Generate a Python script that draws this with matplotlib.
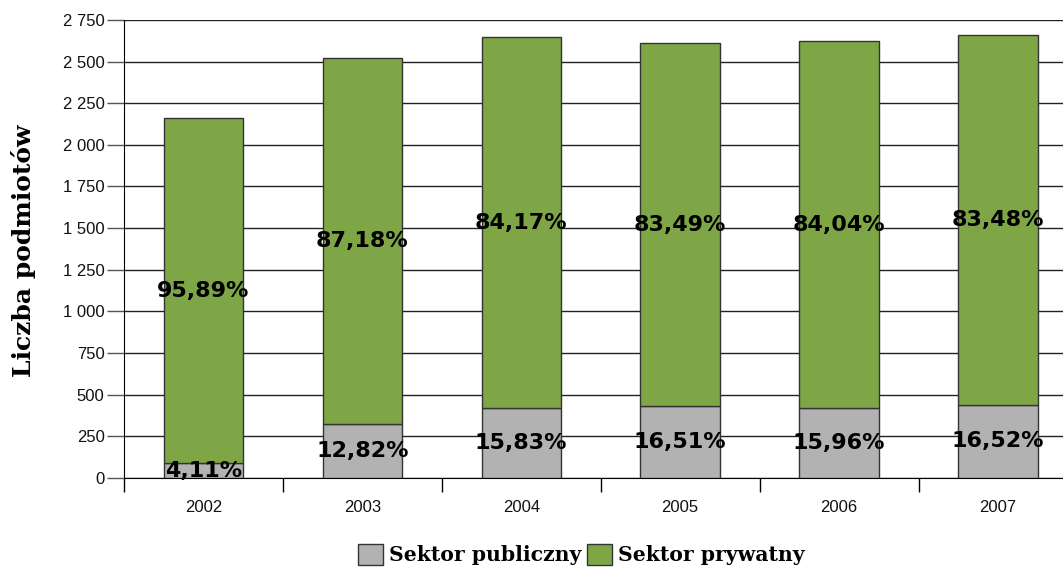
import matplotlib
matplotlib.use("Agg")
import matplotlib.pyplot as plt
from matplotlib.ticker import FuncFormatter, MultipleLocator
from matplotlib.patches import Patch

years = ["2002", "2003", "2004", "2005", "2006", "2007"]
publiczny = [89, 323, 419, 431, 419, 439]
prywatny = [2072, 2199, 2229, 2181, 2205, 2221]
pct_pub = ["4,11%", "12,82%", "15,83%", "16,51%", "15,96%", "16,52%"]
pct_pryw = ["95,89%", "87,18%", "84,17%", "83,49%", "84,04%", "83,48%"]

GREEN = "#7ea646"
GRAY = "#b2b2b2"

fig = plt.figure(figsize=(10.63, 5.69), dpi=100)
ax = fig.add_axes([0.1166, 0.160, 0.897, 0.805])

x = range(len(years))
ax.bar(x, publiczny, width=0.5, color=GRAY, edgecolor="#333333", linewidth=1, zorder=3)
ax.bar(x, prywatny, width=0.5, bottom=publiczny, color=GREEN, edgecolor="#333333",
       linewidth=1, zorder=3)

# percentage labels in the middle of each segment
for i in x:
    ax.text(i, publiczny[i] / 2, pct_pub[i], ha="center", va="center",
            fontsize=16, fontweight="bold", family="DejaVu Sans", zorder=4)
    ax.text(i, publiczny[i] + prywatny[i] / 2, pct_pryw[i], ha="center", va="center",
            fontsize=16, fontweight="bold", family="DejaVu Sans", zorder=4)

ax.set_xlim(-0.5, 5.5)
ax.set_ylim(0, 2750)
ax.yaxis.set_major_locator(MultipleLocator(250))
ax.yaxis.set_major_formatter(FuncFormatter(lambda v, p: f"{int(v):,}".replace(",", " ")))
ax.grid(axis="y", color="#222222", linewidth=1, zorder=0)

# category labels centered, tick marks at category boundaries
ax.set_xticks(list(x))
ax.set_xticklabels(years)
ax.set_xticks([i - 0.5 for i in range(len(years) + 1)], minor=True)
ax.tick_params(axis="x", which="major", length=0, pad=16, labelsize=12)
ax.tick_params(axis="x", which="minor", length=10, width=1, color="black", direction="out")
ax.tick_params(axis="y", length=12, width=1, color="#555555", labelsize=12, pad=2)

for s in ["top", "right"]:
    ax.spines[s].set_visible(False)
ax.spines["left"].set_color("black")
ax.spines["bottom"].set_color("black")

for lbl in ax.get_xticklabels() + ax.get_yticklabels():
    lbl.set_family("Liberation Sans")
    lbl.set_color("#111111")

fig.text(0.022, 0.56, "Liczba podmiotów", rotation=90, ha="center", va="center",
         fontsize=18, fontweight="bold", family="DejaVu Serif")

handles = [Patch(facecolor=GRAY, edgecolor="#333333", label="Sektor publiczny"),
           Patch(facecolor=GREEN, edgecolor="#333333", label="Sektor prywatny")]
fig.legend(handles=handles, loc="center", bbox_to_anchor=(0.547, 0.025), ncol=2,
           frameon=False, handlelength=1.2, handleheight=1.2, handletextpad=0.3,
           columnspacing=0.3, prop={"family": "DejaVu Serif", "weight": "bold", "size": 14.7})

fig.savefig("out.png", dpi=100)
